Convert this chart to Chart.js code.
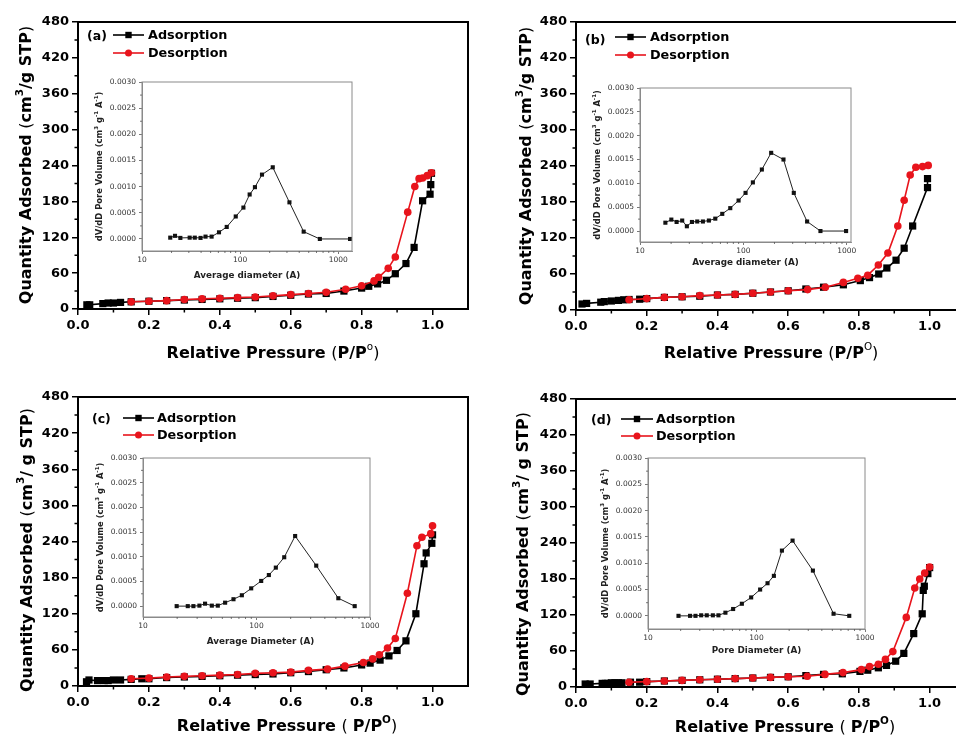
<!DOCTYPE html>
<html>
<head>
<meta charset="utf-8">
<script src="https://cdn.jsdelivr.net/npm/chart.js@4.4.0/dist/chart.umd.min.js"></script>
<style>
  html, body { margin: 0; padding: 0; background: #fff; }
  #fig { position: relative; width: 956px; height: 736px; overflow: hidden; background: #fff; }
  #fig canvas { position: absolute; }
</style>
</head>
<body>
<div id="fig"></div>
<script>
// N2 adsorption / desorption isotherms: relative pressure (P/P0) vs quantity adsorbed (cm3/g STP)
const pAdsA = [0.025, 0.033, 0.07, 0.085, 0.10, 0.12, 0.15, 0.20, 0.25, 0.30, 0.35, 0.40, 0.45, 0.50, 0.55, 0.60, 0.65, 0.70, 0.75, 0.80, 0.82, 0.845, 0.87, 0.895, 0.925, 0.948, 0.972, 0.993, 0.995, 0.997];
const qAdsA = [7, 7, 9, 10, 10, 11, 12, 13, 14, 15, 16, 17, 18, 19, 21, 23, 25, 26, 30, 35, 38, 42, 48, 59, 76, 103, 181, 192, 208, 227];
const pDesA = [0.997, 0.985, 0.972, 0.962, 0.95, 0.93, 0.895, 0.875, 0.848, 0.835, 0.80, 0.755, 0.70, 0.65, 0.60, 0.55, 0.50, 0.45, 0.40, 0.35, 0.30, 0.25, 0.20, 0.15];
const qDesA = [228, 223, 219, 218, 205, 162, 87, 68, 53, 47, 39, 33, 28, 26, 24, 22, 20, 19, 18, 17, 16, 14, 13, 12];

const pAdsB = [0.017, 0.03, 0.07, 0.08, 0.10, 0.12, 0.135, 0.15, 0.18, 0.20, 0.25, 0.30, 0.35, 0.40, 0.45, 0.50, 0.55, 0.60, 0.65, 0.70, 0.756, 0.804, 0.83, 0.856, 0.879, 0.905, 0.928, 0.952, 0.994, 0.994];
const qAdsB = [10, 11, 13, 14, 15, 16, 17, 17.5, 18, 19, 21, 22, 23, 25, 26, 28, 30, 32, 35, 38, 42, 49, 54, 60, 70, 83, 103, 140, 204, 219];
const pDesB = [0.996, 0.98, 0.961, 0.945, 0.928, 0.91, 0.882, 0.855, 0.825, 0.797, 0.756, 0.705, 0.655, 0.60, 0.55, 0.50, 0.45, 0.40, 0.35, 0.30, 0.25, 0.20, 0.15];
const qDesB = [241, 239, 238, 225, 183, 140, 95, 75, 58, 53, 46, 38, 34, 32, 30, 28, 26, 25, 24, 22, 21, 19, 17];

const pAdsC = [0.024, 0.031, 0.055, 0.074, 0.085, 0.10, 0.12, 0.15, 0.18, 0.20, 0.25, 0.30, 0.35, 0.40, 0.45, 0.50, 0.55, 0.60, 0.65, 0.70, 0.75, 0.80, 0.824, 0.852, 0.877, 0.90, 0.925, 0.953, 0.976, 0.982, 0.998, 1.0];
const qAdsC = [7, 10, 9, 9, 9, 10, 10, 11, 12, 12, 14, 15, 16, 17, 18, 19, 20, 22, 24, 27, 30, 35, 38, 43, 50, 59, 75, 120, 203, 221, 237, 251];
const pDesC = [1.0, 0.995, 0.97, 0.956, 0.929, 0.895, 0.873, 0.85, 0.831, 0.805, 0.753, 0.704, 0.65, 0.60, 0.55, 0.50, 0.45, 0.40, 0.35, 0.30, 0.25, 0.20, 0.15];
const qDesC = [266, 253, 247, 233, 154, 79, 63, 52, 45, 39, 33, 28, 26, 23, 22, 21, 19, 18, 17, 16, 15, 13, 12];

const pAdsD = [0.026, 0.04, 0.074, 0.083, 0.09, 0.10, 0.11, 0.12, 0.13, 0.154, 0.18, 0.20, 0.25, 0.30, 0.35, 0.40, 0.45, 0.50, 0.55, 0.60, 0.65, 0.70, 0.753, 0.803, 0.825, 0.855, 0.878, 0.904, 0.927, 0.955, 0.979, 0.982, 0.985, 0.995, 1.0];
const qAdsD = [5, 5, 6, 6, 6, 7, 7, 7, 7, 8, 8, 9, 10, 11, 12, 13, 14, 15, 16, 17, 19, 21, 22, 26, 28, 32, 36, 43, 56, 89, 122, 161, 168, 189, 199];
const pDesD = [1.0, 0.986, 0.972, 0.958, 0.934, 0.896, 0.875, 0.855, 0.83, 0.807, 0.755, 0.704, 0.654, 0.60, 0.55, 0.50, 0.45, 0.40, 0.35, 0.30, 0.25, 0.20, 0.15];
const qDesD = [200, 190, 180, 165, 116, 59, 46, 38, 34, 29, 24, 21, 18, 17, 16, 15, 14, 13, 12, 11, 10, 9, 8];

// Pore size distributions: diameter (A) vs dV/dD pore volume
const diamA = [19.4, 21.7, 24.6, 30.6, 34.5, 39.5, 44.4, 51.2, 60.9, 73, 90.2, 108, 125, 141.5, 167, 215, 318, 444, 649, 1318];
const dvdA = [0.000025, 0.00006, 0.00002, 0.000025, 0.000025, 0.00002, 0.000045, 0.000045, 0.000127, 0.00023, 0.00043, 0.0006, 0.00085, 0.00099, 0.00123, 0.00137, 0.0007, 0.00014, 0.0, 0.0];
const diamB = [17.6, 20.1, 22.6, 25.6, 28.4, 31.8, 35.8, 40.6, 46.4, 53.5, 62.5, 74.7, 89.9, 105, 123.6, 151, 185.8, 244.5, 307.6, 413.7, 557, 986];
const dvdB = [0.000175, 0.00024, 0.00019, 0.00022, 0.0001, 0.00019, 0.0002, 0.0002, 0.00022, 0.00026, 0.00036, 0.00048, 0.00064, 0.0008, 0.00102, 0.00129, 0.00164, 0.0015, 0.0008, 0.0002, 0.0, 0.0];
const diamC = [19.8, 24.8, 27.8, 31.4, 35.2, 40.4, 45.6, 52.9, 62.7, 74.3, 89.8, 110, 128.5, 148, 175.5, 219, 336, 526, 733];
const dvdC = [0, 0, 0, 0.00001, 0.00005, 0.00001, 0.00001, 0.00007, 0.00014, 0.00022, 0.00036, 0.00051, 0.00063, 0.00078, 0.00099, 0.00142, 0.00082, 0.00016, 0];
const diamD = [19.1, 24.4, 27.4, 30.9, 34.8, 39.6, 44.6, 51.7, 60.9, 73.3, 89.3, 108, 126.4, 144.6, 171.5, 215, 331, 513, 716];
const dvdD = [0, 0, 0, 0.00001, 0.00001, 0.00001, 0.00001, 0.00006, 0.00013, 0.00023, 0.00035, 0.0005, 0.00062, 0.00076, 0.00124, 0.00143, 0.00086, 0.00004, 0];

// Tick values
const pressureTicks = [0, 0.2, 0.4, 0.6, 0.8, 1.0];
const pressureMinor = [0.1, 0.3, 0.5, 0.7, 0.9];
const quantityTicks = [0, 60, 120, 180, 240, 300, 360, 420, 480];
const quantityMinor = [30, 90, 150, 210, 270, 330, 390, 450];
const diameterTicks = [10, 100, 1000];
const diameterMinor = [20, 30, 40, 50, 60, 70, 80, 90, 200, 300, 400, 500, 600, 700, 800, 900];
const poreVolTicks = [0, 0.0005, 0.001, 0.0015, 0.002, 0.0025, 0.003];
const poreVolMinor = [0.00025, 0.00075, 0.00125, 0.00175, 0.00225, 0.00275];

const FONT = "'DejaVu Sans', 'Liberation Sans', Arial, sans-serif";
const RED = '#e8141c';

// Draws a run of text pieces; pieces flagged sup are raised and smaller.
function drawRich(ctx, segs, x, y, o) {
  ctx.save();
  ctx.translate(x, y);
  if (o.rot) ctx.rotate(o.rot);
  ctx.fillStyle = o.color || '#000';
  ctx.textBaseline = 'alphabetic';
  ctx.textAlign = 'left';
  const fontOf = s => `${s[2] || o.weight || 'bold'} ${s[1] ? o.size * 0.65 : o.size}px ${FONT}`;
  let total = 0;
  segs.forEach(s => { ctx.font = fontOf(s); total += ctx.measureText(s[0]).width; });
  let cx = o.align === 'left' ? 0 : -total / 2;
  const base = o.size * 0.36;
  segs.forEach(s => {
    ctx.font = fontOf(s);
    ctx.fillText(s[0], cx, s[1] ? base - o.size * 0.48 : base);
    cx += ctx.measureText(s[0]).width;
  });
  ctx.restore();
}

// Frame, minor ticks, titles and in-plot legend
const deco = {
  id: 'deco',
  afterDraw(chart, args, o) {
    const ctx = chart.ctx, a = chart.chartArea;
    const xs = chart.scales.x, ys = chart.scales.y;
    ctx.save();
    ctx.strokeStyle = o.frameColor;
    ctx.lineWidth = o.frameWidth;
    ctx.strokeRect(a.left, a.top, a.right - a.left, a.bottom - a.top);
    ctx.strokeStyle = o.tickColor;
    ctx.lineWidth = o.tickWidth;
    ctx.beginPath();
    o.minorX.forEach(v => {
      const px = xs.getPixelForValue(v);
      if (px < a.left || px > a.right) return;
      ctx.moveTo(px, a.bottom); ctx.lineTo(px, a.bottom + o.minorLen);
    });
    o.minorY.forEach(v => {
      const py = ys.getPixelForValue(v);
      if (py < a.top || py > a.bottom) return;
      ctx.moveTo(a.left, py); ctx.lineTo(a.left - o.minorLen, py);
    });
    ctx.stroke();
    (o.texts || []).forEach(t => drawRich(ctx, t.segs, t.x, t.y, t));
    (o.legend || []).forEach(e => {
      ctx.strokeStyle = e.color;
      ctx.fillStyle = e.color;
      ctx.lineWidth = 1.6;
      ctx.beginPath(); ctx.moveTo(e.x1, e.y); ctx.lineTo(e.x2, e.y); ctx.stroke();
      const mx = (e.x1 + e.x2) / 2;
      ctx.beginPath();
      if (e.marker === 'rect') ctx.rect(mx - 3.2, e.y - 3.2, 6.4, 6.4);
      else ctx.arc(mx, e.y, 3.5, 0, Math.PI * 2);
      ctx.fill();
      ctx.fillStyle = '#000';
      ctx.font = `bold ${e.size}px ${FONT}`;
      ctx.textBaseline = 'middle';
      ctx.textAlign = 'left';
      ctx.fillText(e.text, e.tx, e.y + 1);
    });
    ctx.restore();
  }
};

const fig = document.getElementById('fig');
function addCanvas(left, top, w, h) {
  const c = document.createElement('canvas');
  c.width = w; c.height = h;
  c.style.left = left + 'px'; c.style.top = top + 'px';
  c.style.width = w + 'px'; c.style.height = h + 'px';
  fig.appendChild(c);
  return c;
}
const pts = (xs, ys) => xs.map((x, i) => ({ x: x, y: ys[i] }));

// Main isotherm panel
function isotherm(p) {
  const W = p.w, H = 368;
  const cv = addCanvas(p.left, p.top, W, H);
  const A = p.area;
  new Chart(cv, {
    type: 'line',
    data: {
      datasets: [
        { data: pts(p.pAds, p.qAds), borderColor: '#000', backgroundColor: '#000', borderWidth: 1.6,
          pointStyle: 'rect', pointRadius: 5.1, pointBorderWidth: 0, order: 2 },
        { data: pts(p.pDes, p.qDes), borderColor: RED, backgroundColor: RED, borderWidth: 1.6,
          pointStyle: 'circle', pointRadius: 3.8, pointBorderWidth: 0, order: 1 }
      ]
    },
    options: {
      responsive: false, animation: false, devicePixelRatio: 1,
      layout: { padding: { left: 0, top: A.top, right: W - A.right, bottom: 0 } },
      plugins: {
        legend: { display: false }, tooltip: { enabled: false },
        deco: {
          frameColor: '#000', frameWidth: 2, tickColor: '#000', tickWidth: 1.5, minorLen: 3.5,
          minorX: pressureMinor, minorY: quantityMinor,
          texts: p.texts, legend: p.legend
        }
      },
      scales: {
        x: {
          type: 'linear', min: 0, max: 1.1,
          afterBuildTicks: s => { s.ticks = pressureTicks.map(v => ({ value: v })); },
          afterFit: s => { s.height = H - A.bottom; },
          ticks: { color: '#000', padding: 3, maxRotation: 0, autoSkip: false,
                   font: { family: FONT, size: 13, weight: 'bold' }, callback: v => v.toFixed(1) },
          grid: { drawOnChartArea: false, tickLength: 6, color: '#000', lineWidth: 1.5 },
          border: { display: true, color: '#000', width: 2 }
        },
        y: {
          type: 'linear', min: 0, max: 480,
          afterBuildTicks: s => { s.ticks = quantityTicks.map(v => ({ value: v })); },
          afterFit: s => { s.width = A.left; },
          ticks: { color: '#000', padding: 3, autoSkip: false,
                   font: { family: FONT, size: 13, weight: 'bold' }, callback: v => String(v) },
          grid: { drawOnChartArea: false, tickLength: 6, color: '#000', lineWidth: 1.5 },
          border: { display: true, color: '#000', width: 2 }
        }
      }
    },
    plugins: [deco]
  });
}

// Inset pore size distribution
function psd(p) {
  const g = p.area;
  const padL = 62, padT = 12, padR = 12, padB = 36;
  const W = g.R - g.L + padL + padR, H = g.B - g.T + padT + padB;
  const cv = addCanvas(g.L - padL, g.T - padT, W, H);
  const midX = padL + (g.R - g.L) / 2 + (p.titleShift || 0);
  const midY = padT + (g.B - g.T) / 2;
  new Chart(cv, {
    type: 'line',
    data: {
      datasets: [{ data: pts(p.d, p.v), borderColor: '#222', backgroundColor: '#111', borderWidth: 1,
                   pointStyle: 'rect', pointRadius: 2.9, pointBorderWidth: 0 }]
    },
    options: {
      responsive: false, animation: false, devicePixelRatio: 1,
      layout: { padding: { left: 0, top: padT, right: padR, bottom: 0 } },
      plugins: {
        legend: { display: false }, tooltip: { enabled: false },
        deco: {
          frameColor: '#8a8a8a', frameWidth: 1, tickColor: '#555', tickWidth: 0.8, minorLen: 2,
          minorX: diameterMinor.filter(v => v <= p.xMax), minorY: poreVolMinor,
          texts: [
            { segs: [[p.xTitle]], x: midX, y: padT + (g.B - g.T) + p.xTitleDy, size: 8.8, weight: 'bold', color: '#222' },
            { segs: p.yTitle, x: 19, y: midY, rot: -Math.PI / 2, size: 8.4, weight: 'bold', color: '#222' }
          ]
        }
      },
      scales: {
        x: {
          type: 'logarithmic', min: 10, max: p.xMax,
          afterBuildTicks: s => { s.ticks = diameterTicks.filter(v => v <= p.xMax).map(v => ({ value: v })); },
          afterFit: s => { s.height = padB; },
          ticks: { color: '#333', padding: 2, maxRotation: 0, autoSkip: false,
                   font: { family: FONT, size: 7.5 }, callback: v => String(v) },
          grid: { drawOnChartArea: false, tickLength: 3, color: '#555', lineWidth: 0.8 },
          border: { display: true, color: '#8a8a8a', width: 1 }
        },
        y: {
          type: 'linear', min: p.yMin, max: 0.003,
          afterBuildTicks: s => { s.ticks = poreVolTicks.map(v => ({ value: v })); },
          afterFit: s => { s.width = padL; },
          ticks: { color: '#333', padding: 3, autoSkip: false,
                   font: { family: FONT, size: 7.5 }, callback: v => v.toFixed(4) },
          grid: { drawOnChartArea: false, tickLength: 3, color: '#555', lineWidth: 0.8 },
          border: { display: true, color: '#8a8a8a', width: 1 }
        }
      }
    },
    plugins: [deco]
  });
}

const ROT = -Math.PI / 2;
const adsTitle = [['Quantity Adsorbed '], ['(', 0, 'normal'], ['cm'], ['3', 1], ['/g STP'], [')', 0, 'normal']];
const adsTitle2 = [['Quantity Adsorbed '], ['(', 0, 'normal'], ['cm'], ['3', 1], ['/ g STP'], [')', 0, 'normal']];
const poreTitleA = [['dV/dD Pore Volume (cm'], ['3', 1], [' g'], ['-1', 1], [' A'], ['-1', 1], [')']];

function legendItems(x1, x2, tx, y1, y2, size) {
  return [
    { x1, x2, y: y1, color: '#000', marker: 'rect', text: 'Adsorption', tx, size },
    { x1, x2, y: y2, color: RED, marker: 'circle', text: 'Desorption', tx, size }
  ];
}

// (a)
isotherm({
  left: 0, top: 0, w: 478, area: { left: 78, right: 468, top: 22, bottom: 309 },
  pAds: pAdsA, qAds: qAdsA, pDes: pDesA, qDes: qDesA,
  texts: [
    { segs: [['Relative Pressure '], ['(', 0, 'normal'], ['P/P'], ['o', 1, 'normal'], [')', 0, 'normal']], x: 273, y: 352, size: 16 },
    { segs: adsTitle, x: 25, y: 165, rot: ROT, size: 16 },
    { segs: [['(a)']], x: 87, y: 35, size: 12.5, align: 'left' }
  ],
  legend: legendItems(113, 144, 148, 35, 53, 12.8)
});
// (b)
isotherm({
  left: 478, top: 0, w: 500, area: { left: 98, right: 487, top: 22, bottom: 310 },
  pAds: pAdsB, qAds: qAdsB, pDes: pDesB, qDes: qDesB,
  texts: [
    { segs: [['Relative Pressure '], ['(', 0, 'normal'], ['P/P'], ['O', 1, 'normal'], [')', 0, 'normal']], x: 293, y: 352, size: 16 },
    { segs: adsTitle, x: 47, y: 166, rot: ROT, size: 16 },
    { segs: [['(b)']], x: 107, y: 39, size: 12.5, align: 'left' }
  ],
  legend: legendItems(137, 168, 172, 37, 55, 12.8)
});
// (c)
isotherm({
  left: 0, top: 368, w: 478, area: { left: 78, right: 468, top: 29, bottom: 318 },
  pAds: pAdsC, qAds: qAdsC, pDes: pDesC, qDes: qDesC,
  texts: [
    { segs: [['Relative Pressure '], ['( ', 0, 'normal'], ['P/P'], ['O', 1], [')', 0, 'normal']], x: 287, y: 357, size: 16 },
    { segs: adsTitle2, x: 26, y: 182, rot: ROT, size: 16 },
    { segs: [['(c)']], x: 92, y: 50, size: 12.5, align: 'left' }
  ],
  legend: legendItems(123, 154, 157, 50, 67, 12.8)
});
// (d)
isotherm({
  left: 478, top: 368, w: 500, area: { left: 98, right: 487, top: 31, bottom: 319 },
  pAds: pAdsD, qAds: qAdsD, pDes: pDesD, qDes: qDesD,
  texts: [
    { segs: [['Relative Pressure '], ['( ', 0, 'normal'], ['P/P'], ['O', 1], [')', 0, 'normal']], x: 307, y: 358, size: 16 },
    { segs: adsTitle2, x: 44, y: 186, rot: ROT, size: 16 },
    { segs: [['(d)']], x: 113, y: 51, size: 12.5, align: 'left' }
  ],
  legend: legendItems(143, 175, 178, 51, 68, 12.8)
});

// Insets
psd({ area: { L: 142, R: 352, T: 82, B: 251 }, xMax: 1380, yMin: -0.00023, d: diamA, v: dvdA,
      xTitle: 'Average diameter (A)', xTitleDy: 24, yTitle: poreTitleA });
psd({ area: { L: 640, R: 851, T: 88, B: 242 }, xMax: 1100, yMin: -0.00023, d: diamB, v: dvdB,
      xTitle: 'Average diameter (A)', xTitleDy: 20, yTitle: poreTitleA });
psd({ area: { L: 143, R: 370, T: 458, B: 617 }, xMax: 1000, yMin: -0.00022, d: diamC, v: dvdC,
      xTitle: 'Average Diameter (A)', xTitleDy: 24, titleShift: 4, yTitle: poreTitleA });
psd({ area: { L: 648, R: 865, T: 458, B: 629 }, xMax: 1000, yMin: -0.00025, d: diamD, v: dvdD,
      xTitle: 'Pore Diameter (A)', xTitleDy: 21, yTitle: poreTitleA });
</script>
</body>
</html>
